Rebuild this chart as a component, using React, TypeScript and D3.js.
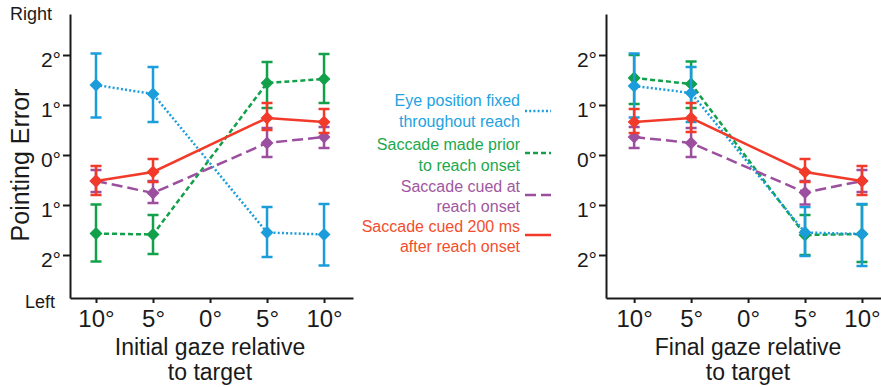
import { useEffect, useRef } from 'react'
import * as d3 from 'd3'

const FONT = '"Liberation Sans", Arial, Helvetica, sans-serif'

const gazeTicks = [-10, -5, 0, 5, 10]
const errorTicks = [-2, -1, 0, 1, 2]
const gazePositions = [-10, -5, 5, 10]

const legendText = [
    ['Eye position fixed', 'throughout reach'],
    ['Saccade made prior', 'to reach onset'],
    ['Saccade cued at', 'reach onset'],
    ['Saccade cued 200 ms', 'after reach onset'],
]

// initial gaze panel (mean, upper and lower end of error bar), degrees
const initFixed = [1.4, 1.22, -1.55, -1.59]
const initFixedHi = [2.03, 1.76, -1.04, -0.98]
const initFixedLo = [0.75, 0.66, -2.04, -2.21]
const initPrior = [-1.57, -1.59, 1.44, 1.52]
const initPriorHi = [-0.99, -1.2, 1.86, 2.02]
const initPriorLo = [-2.13, -1.98, 0.94, 1.04]
const initAt = [-0.52, -0.76, 0.24, 0.36]
const initAtHi = [-0.3, -0.52, 0.54, 0.56]
const initAtLo = [-0.74, -0.96, -0.04, 0.14]
const initLate = [-0.52, -0.34, 0.74, 0.66]
const initLateHi = [-0.22, -0.08, 1.04, 0.92]
const initLateLo = [-0.8, -0.54, 0.5, 0.44]

// final gaze panel
const finalFixed = [1.38, 1.24, -1.55, -1.58]
const finalFixedHi = [2.03, 1.76, -1.04, -0.98]
const finalFixedLo = [0.75, 0.66, -2.02, -2.22]
const finalPrior = [1.54, 1.42, -1.6, -1.58]
const finalPriorHi = [2.0, 1.87, -1.2, -0.99]
const finalPriorLo = [1.02, 0.94, -2.0, -2.14]
const finalAt = [0.36, 0.24, -0.75, -0.52]
const finalAtHi = [0.56, 0.54, -0.52, -0.3]
const finalAtLo = [0.14, -0.04, -0.99, -0.74]
const finalLate = [0.66, 0.74, -0.34, -0.52]
const finalLateHi = [0.92, 1.04, -0.08, -0.22]
const finalLateLo = [0.44, 0.46, -0.54, -0.8]

const styles = [
    { stroke: '#1b9ddb', text: '#23a2df', dash: '2,2.2' },
    { stroke: '#12a04a', text: '#1ca84d', dash: '5,3' },
    { stroke: '#9b4f9e', text: '#a0579f', dash: '11,5' },
    { stroke: '#f23a2a', text: '#f24e2e', dash: null },
]

// draw order: green, blue, purple, red
const drawOrder = [1, 0, 2, 3]

type Pt = { g: number, m: number, hi: number, lo: number }

function makeSeries(m: number[], hi: number[], lo: number[]): Pt[] {
    return gazePositions.map((g, i) => ({ g, m: m[i], hi: hi[i], lo: lo[i] }))
}

export default function App() {
    const svgRef = useRef<SVGSVGElement | null>(null)

    useEffect(() => {
        if (!svgRef.current) return
        const svg = d3.select(svgRef.current)
        svg.selectAll('*').remove()

        const y = d3.scaleLinear().domain([-2.86, 2.82]).range([298, 14])

        const panels = [
            {
                x: d3.scaleLinear().domain([-12.28, 12.54]).range([70, 353]),
                title: ['Initial gaze relative', 'to target'],
                series: [
                    makeSeries(initFixed, initFixedHi, initFixedLo),
                    makeSeries(initPrior, initPriorHi, initPriorLo),
                    makeSeries(initAt, initAtHi, initAtLo),
                    makeSeries(initLate, initLateHi, initLateLo),
                ],
            },
            {
                x: d3.scaleLinear().domain([-12.47, 11.67]).range([606, 881]),
                title: ['Final gaze relative', 'to target'],
                series: [
                    makeSeries(finalFixed, finalFixedHi, finalFixedLo),
                    makeSeries(finalPrior, finalPriorHi, finalPriorLo),
                    makeSeries(finalAt, finalAtHi, finalAtLo),
                    makeSeries(finalLate, finalLateHi, finalLateLo),
                ],
            },
        ]

        const fmt = (d: d3.NumberValue) => Math.abs(+d) + '°'
        const diamond = d3.symbol().type(d3.symbolSquare).size(84)

        panels.forEach((p) => {
            const x = p.x
            const x0 = x.range()[0]
            const cx = (x(-10) + x(10)) / 2

            const gx = svg.append('g')
                .attr('transform', 'translate(0,298)')
                .call(d3.axisBottom(x).tickValues(gazeTicks).tickFormat(fmt)
                    .tickSize(5).tickSizeOuter(0).tickPadding(7))
            gx.attr('font-size', 24).attr('font-family', FONT)
            gx.selectAll('text').attr('fill', '#1a1a1a')
            gx.selectAll('line, path').attr('stroke', '#1a1a1a').attr('stroke-width', 2)

            const gy = svg.append('g')
                .attr('transform', `translate(${x0},0)`)
                .call(d3.axisLeft(y).tickValues(errorTicks).tickFormat(fmt)
                    .tickSize(7).tickPadding(2).tickSizeOuter(0))
            gy.attr('font-size', 21).attr('font-family', FONT)
            gy.selectAll('text').attr('fill', '#1a1a1a').attr('dy', '0.55em')
            gy.selectAll('line, path').attr('stroke', '#1a1a1a').attr('stroke-width', 2)

            p.title.forEach((t, i) => {
                svg.append('text')
                    .attr('x', cx).attr('y', 355 + i * 25)
                    .attr('text-anchor', 'middle')
                    .attr('font-family', FONT).attr('font-size', 23).attr('fill', '#1a1a1a')
                    .text(t)
            })

            const line = d3.line<Pt>().x((d) => x(d.g)).y((d) => y(d.m))

            drawOrder.forEach((si) => {
                const data = p.series[si]
                const st = styles[si]
                const g = svg.append('g')

                g.append('path')
                    .datum(data)
                    .attr('fill', 'none')
                    .attr('stroke', st.stroke)
                    .attr('stroke-width', 2.5)
                    .attr('stroke-dasharray', st.dash)
                    .attr('d', line)

                const bars = g.selectAll('g.bar').data(data).join('g').attr('class', 'bar')
                bars.append('line')
                    .attr('x1', (d) => x(d.g)).attr('x2', (d) => x(d.g))
                    .attr('y1', (d) => y(d.hi)).attr('y2', (d) => y(d.lo))
                bars.append('line')
                    .attr('x1', (d) => x(d.g) - 5.5).attr('x2', (d) => x(d.g) + 5.5)
                    .attr('y1', (d) => y(d.hi)).attr('y2', (d) => y(d.hi))
                bars.append('line')
                    .attr('x1', (d) => x(d.g) - 5.5).attr('x2', (d) => x(d.g) + 5.5)
                    .attr('y1', (d) => y(d.lo)).attr('y2', (d) => y(d.lo))
                bars.selectAll('line').attr('stroke', st.stroke).attr('stroke-width', 2.5)
                bars.append('path')
                    .attr('d', diamond)
                    .attr('transform', (d) => `translate(${x(d.g)},${y(d.m)}) rotate(45)`)
                    .attr('fill', st.stroke)
            })
        })

        // y labels of the left panel
        svg.append('text').attr('x', 10).attr('y', 20)
            .attr('font-family', FONT).attr('font-size', 18).attr('fill', '#1a1a1a')
            .text('Right')
        svg.append('text').attr('x', 25).attr('y', 308)
            .attr('font-family', FONT).attr('font-size', 18).attr('fill', '#1a1a1a')
            .text('Left')
        svg.append('text')
            .attr('transform', 'translate(29,165) rotate(-90)')
            .attr('text-anchor', 'middle')
            .attr('font-family', FONT).attr('font-size', 25).attr('fill', '#1a1a1a')
            .text('Pointing Error')

        // legend
        const textY = [106, 127, 150, 171, 192, 212, 232, 252]
        const sampleY = [111, 153, 195, 235]
        legendText.forEach((lines, i) => {
            const st = styles[i]
            lines.forEach((t, j) => {
                svg.append('text')
                    .attr('x', 520).attr('y', textY[i * 2 + j])
                    .attr('text-anchor', 'end')
                    .attr('font-family', FONT).attr('font-size', 16)
                    .attr('fill', st.text)
                    .text(t)
            })
            svg.append('line')
                .attr('x1', 525).attr('x2', 551)
                .attr('y1', sampleY[i]).attr('y2', sampleY[i])
                .attr('stroke', st.stroke)
                .attr('stroke-width', 2.5)
                .attr('stroke-dasharray', st.dash)
        })
    }, [])

    return (
        <svg ref={svgRef} width={881} height={387}
            style={{ position: 'absolute', left: 0, top: 0, background: '#fff' }} />
    )
}
